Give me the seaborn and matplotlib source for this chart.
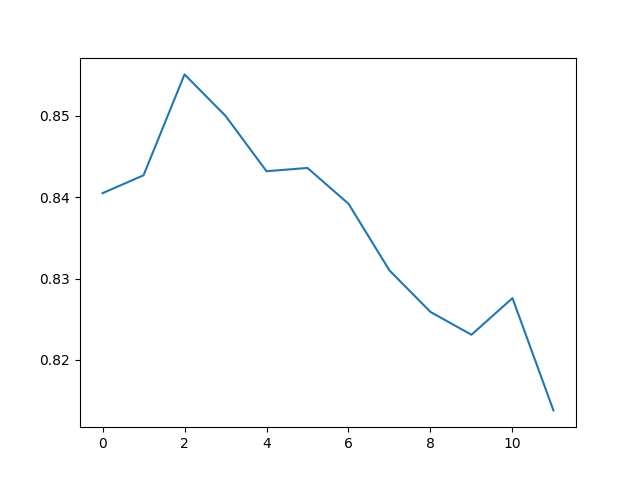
import matplotlib
matplotlib.use("Agg")
import matplotlib.pyplot as plt
import seaborn as sns
import pandas as pd

# Values
epochs = list(range(12))
scores = [0.8405, 0.8427, 0.8551, 0.8500, 0.8432, 0.8436,
          0.8392, 0.8310, 0.8259, 0.8231, 0.8276, 0.8138]

df = pd.DataFrame({"x": epochs, "y": scores})

fig, ax = plt.subplots(figsize=(6.4, 4.8), dpi=100)
sns.lineplot(data=df, x="x", y="y", ax=ax, color="#1f77b4")
ax.set_xlabel("")
ax.set_ylabel("")

fig.savefig("out.png")
